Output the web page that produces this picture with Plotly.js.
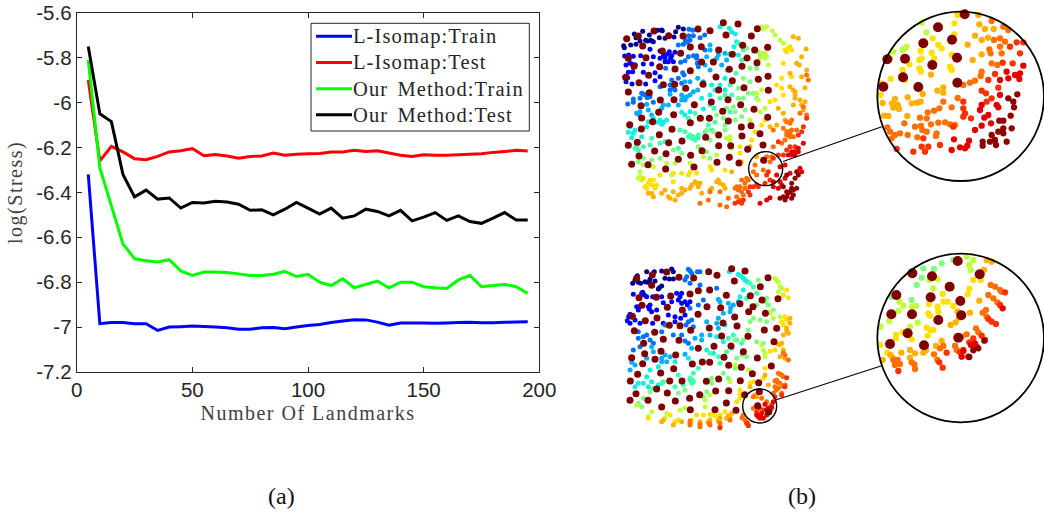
<!DOCTYPE html>
<html>
<head>
<meta charset="utf-8">
<script src="https://cdn.plot.ly/plotly-3.0.1.min.js"></script>
<style>
html,body{margin:0;padding:0;background:#fff;}
.xtitle,.ytitle{letter-spacing:1.5px;}
.legendtext{letter-spacing:1.1px;word-spacing:3px;font-size:20.5px !important;transform:translateX(-4px);}
</style>
</head>
<body>
<div id="chart" style="width:1044px;height:512px;"></div>
<script>
const landmarks = [5,10,15,20,25,30,35,40,45,50,55,60,65,70,75,80,85,90,95,100,105,110,115,120,125,130,135,140,145,150,155,160,165,170,175,180,185,190,195];
const isomapTrain = [-6.32,-6.985,-6.98,-6.98,-6.985,-6.985,-7.015,-7.0,-6.998,-6.995,-6.997,-7.0,-7.003,-7.01,-7.01,-7.003,-7.002,-7.007,-7.0,-6.993,-6.988,-6.98,-6.973,-6.967,-6.968,-6.978,-6.992,-6.982,-6.982,-6.982,-6.983,-6.982,-6.98,-6.979,-6.981,-6.981,-6.979,-6.977,-6.976];
const isomapTest = [-5.9,-6.26,-6.195,-6.22,-6.25,-6.255,-6.24,-6.22,-6.215,-6.205,-6.237,-6.232,-6.238,-6.248,-6.24,-6.238,-6.225,-6.235,-6.23,-6.228,-6.227,-6.22,-6.22,-6.213,-6.218,-6.215,-6.225,-6.235,-6.24,-6.233,-6.235,-6.235,-6.233,-6.23,-6.228,-6.222,-6.218,-6.213,-6.216];
const ourTrain = [-5.81,-6.29,-6.46,-6.63,-6.695,-6.705,-6.71,-6.70,-6.75,-6.77,-6.755,-6.755,-6.757,-6.763,-6.77,-6.77,-6.765,-6.752,-6.775,-6.765,-6.8,-6.815,-6.785,-6.825,-6.81,-6.795,-6.825,-6.8,-6.8,-6.82,-6.825,-6.828,-6.79,-6.77,-6.82,-6.815,-6.81,-6.82,-6.85];
const ourTest = [-5.75,-6.05,-6.085,-6.32,-6.42,-6.39,-6.43,-6.425,-6.47,-6.445,-6.447,-6.44,-6.443,-6.453,-6.48,-6.478,-6.5,-6.475,-6.445,-6.47,-6.497,-6.47,-6.515,-6.505,-6.475,-6.485,-6.505,-6.48,-6.527,-6.51,-6.49,-6.525,-6.505,-6.53,-6.538,-6.515,-6.49,-6.523,-6.523];
const seriesNames = ["L-Isomap:Train","L-Isomap:Test","Our Method:Train","Our Method:Test"];
const xTickVals = [0,50,100,150,200];
const yTickVals = [-5.6,-5.8,-6,-6.2,-6.4,-6.6,-6.8,-7,-7.2];
const yTickText = ["-5.6","-5.8","-6","-6.2","-6.4","-6.6","-6.8","-7","-7.2"];

// Embedding A (upper left)
const aLand = [[340,23],[384,27],[442,41],[264,42],[300,47],[132,48],[348,60],[424,63],[176,62],[219,63],[85,63],[50,71],[98,93],[241,96],[274,95],[398,91],[326,105],[434,105],[473,97],[157,108],[212,115],[367,118],[108,128],[55,130],[411,129],[275,141],[310,141],[441,143],[72,154],[149,155],[396,154],[195,162],[241,167],[358,163],[47,187],[116,181],[318,186],[474,184],[445,193],[367,197],[87,203],[160,209],[194,208],[279,208],[227,220],[402,218],[475,226],[326,225],[55,231],[118,233],[151,255],[192,254],[354,254],[304,261],[253,269],[392,269],[93,272],[432,283],[338,289],[146,292],[191,299],[95,309],[473,307],[271,310],[298,310],[128,320],[241,323],[355,318],[59,329],[423,332],[394,336],[94,342],[186,343],[450,356],[148,359],[326,360],[287,367],[396,363],[216,378],[82,382],[176,383],[55,391],[326,392],[362,392],[459,390],[134,408],[276,407],[413,403],[168,416],[87,423],[242,421],[358,427],[205,433],[461,436],[321,442],[387,444],[65,448],[114,449],[252,456],[167,462]];
const aNavy = [[98,49],[73,57],[78,68],[90,78],[62,90],[41,92],[43,98],[78,88],[107,76],[122,76],[118,60],[148,68],[143,46],[157,47],[165,70],[197,50],[205,37],[220,42],[192,66],[125,78],[112,78],[130,80],[155,45]];
const aBlue = [[44,123],[56,120],[70,124],[48,150],[55,172],[76,150],[100,147],[92,122],[125,147],[130,125],[120,103],[150,108],[165,128],[185,122],[178,110],[195,112],[175,140],[165,140],[160,123],[190,140],[48,200],[66,207],[53,188],[68,170],[100,172],[135,173],[135,197],[150,185],[107,207],[67,148],[172,118],[182,130],[150,130],[60,145]];
const aDodger = [[237,43],[248,46],[226,75],[220,88],[250,62],[270,68],[284,60],[236,62],[205,90],[212,142],[225,137],[235,125],[260,122],[285,105],[262,145],[265,155],[218,173],[205,190],[185,195],[215,205],[195,225],[180,225],[105,240],[95,235],[120,245],[130,262],[90,250],[70,252],[53,267],[70,262],[167,160],[222,180],[150,215],[180,210],[190,218],[100,237],[112,248],[260,130],[250,122],[240,75],[232,82]];
const aAzure = [[160,270],[180,238],[215,240],[225,255],[240,240],[215,255],[250,230],[263,225],[280,200],[300,165],[263,190],[285,150],[290,125],[300,105],[325,120],[345,115],[350,135],[335,150],[320,130],[300,90],[115,285],[110,268],[90,290],[80,295],[155,280],[175,270],[125,300],[205,270],[240,200],[225,200],[230,245],[220,248],[85,298]];
const aCyan = [[330,35],[358,40],[365,50],[376,57],[380,80],[372,95],[358,118],[385,120],[352,165],[345,190],[330,210],[315,225],[300,240],[305,210],[275,250],[280,282],[240,290],[225,300],[215,292],[170,315],[160,322],[145,322],[130,310],[110,335],[95,365],[75,345],[55,352],[65,368],[60,335],[115,320],[345,225],[150,315],[155,328],[70,355]];
const aAqua = [[385,85],[400,105],[395,135],[378,175],[360,210],[345,240],[330,250],[312,280],[300,270],[365,240],[255,295],[235,310],[315,322],[295,330],[285,350],[305,345],[265,360],[235,365],[255,375],[245,370],[225,350],[210,345],[165,380],[150,385],[125,370],[100,395],[75,400],[85,405],[120,390],[360,290],[205,400],[250,365],[260,370],[240,360],[265,368],[80,392]];
const aGreen = [[410,100],[420,160],[400,190],[385,220],[415,235],[430,235],[400,250],[385,250],[370,275],[350,280],[320,300],[340,310],[345,345],[375,315],[395,305],[405,285],[375,290],[300,375],[265,395],[215,415],[190,405],[150,430],[125,435],[100,430],[85,440],[290,410],[300,430],[345,330],[420,200],[440,160],[290,345],[310,350],[450,120],[440,250]];
const aLime = [[455,35],[470,35],[487,47],[458,115],[445,110],[465,130],[475,150],[450,130],[440,235],[455,225],[445,255],[420,315],[450,290],[465,280],[360,375],[365,400],[320,420],[280,425],[240,445],[195,445],[170,445],[130,455],[100,450],[90,470],[85,490],[185,480],[460,42],[495,60],[510,75],[520,85],[450,40],[465,115],[470,125],[350,370],[360,365],[90,485],[95,495]];
const aYellow = [[535,100],[520,145],[530,110],[545,105],[545,185],[515,190],[515,220],[520,240],[480,260],[495,255],[465,315],[455,330],[435,350],[425,375],[390,395],[390,415],[395,440],[345,465],[300,455],[305,465],[260,475],[240,470],[215,475],[190,475],[190,500],[130,495],[125,510],[105,515],[135,520],[235,480],[500,210],[115,505],[120,495],[140,510],[110,520],[100,490],[150,480],[525,105],[540,95]];
const aAmber = [[550,65],[565,70],[588,102],[575,125],[560,145],[568,150],[540,175],[555,230],[575,185],[590,165],[585,218],[555,250],[550,270],[575,270],[585,260],[505,280],[520,295],[480,335],[525,315],[500,330],[420,395],[440,425],[365,470],[325,495],[330,505],[345,520],[270,505],[255,500],[215,520],[205,540],[180,550],[155,535],[125,535],[275,535],[300,525],[245,510],[190,530],[165,525],[115,535],[130,545],[175,545],[195,555],[215,535],[225,525],[240,520],[260,505],[265,515],[320,500],[340,510],[305,520],[555,240],[550,225],[570,255],[540,215],[580,285]];
const aOrange = [[590,180],[595,195],[580,275],[590,300],[570,295],[545,315],[530,320],[520,340],[535,350],[550,365],[525,375],[515,385],[490,345],[490,395],[470,425],[480,440],[435,450],[430,470],[440,480],[410,490],[405,505],[390,515],[385,525],[355,550],[330,570],[295,555],[300,530],[330,530],[270,565],[350,575],[460,465],[485,425],[380,545],[395,530],[530,350],[540,355],[545,345],[540,365],[530,360],[560,345],[540,325],[405,520],[395,495],[415,495],[400,540],[390,555],[375,520],[380,515]];
const aRedOrange = [[590,310],[580,335],[575,350],[565,360],[555,395],[540,395],[530,405],[505,380],[490,430],[470,480],[480,495],[465,505],[440,510],[420,515],[415,530],[400,555],[375,565],[395,565],[420,540],[445,515],[505,420],[520,420],[475,470],[430,515],[385,560]];
const aRed = [[580,385],[565,400],[555,410],[545,420],[525,450],[510,455],[500,480],[490,500],[480,548],[470,555],[450,565],[510,500],[525,490],[540,475],[570,460],[575,470],[555,420],[535,420],[545,410],[565,410],[490,515],[515,510],[505,520]];
const aDarkRed = [[560,470],[530,480],[555,490],[565,480],[520,515],[545,505],[560,520],[540,530],[530,545],[550,540],[510,550],[525,555],[545,550],[535,535],[545,520],[520,545],[550,525],[530,530]];

// Embedding B (lower left)
const bLand = [[365,41],[405,48],[296,50],[321,61],[170,51],[127,59],[207,67],[80,70],[251,69],[474,68],[373,78],[125,91],[451,95],[265,107],[299,105],[240,117],[349,121],[182,123],[87,128],[139,127],[421,122],[504,131],[456,135],[390,146],[96,151],[172,157],[291,155],[429,155],[332,158],[217,165],[416,170],[466,175],[264,178],[67,184],[374,186],[141,189],[106,197],[339,204],[178,211],[210,212],[381,213],[298,219],[500,220],[463,225],[242,226],[73,227],[134,232],[414,244],[335,243],[160,253],[207,256],[492,260],[101,265],[312,274],[363,273],[265,280],[153,289],[400,290],[104,296],[197,300],[342,307],[442,309],[65,308],[135,313],[356,331],[277,321],[299,322],[247,327],[98,326],[394,337],[484,333],[191,341],[427,356],[83,358],[152,354],[326,372],[289,379],[216,378],[179,378],[61,378],[391,377],[446,383],[356,407],[317,408],[140,402],[448,410],[269,419],[172,414],[404,419],[78,416],[239,430],[60,436],[114,436],[196,438],[349,444],[443,452],[155,456],[241,464],[315,464],[378,466],[476,471]];
const bNavy = [[110,50],[133,50],[82,62],[68,85],[85,82],[105,80],[120,72],[135,78],[155,48],[165,70],[185,42],[190,50],[190,72],[148,98],[155,93],[118,80],[75,75],[98,112],[92,85],[112,82],[145,102],[178,72]];
const bBlue = [[70,118],[95,115],[110,125],[80,155],[85,165],[120,150],[118,162],[103,120],[160,143],[155,125],[185,140],[200,115],[215,115],[225,140],[205,135],[215,145],[60,178],[52,197],[60,205],[75,195],[90,205],[128,205],[125,170],[140,165],[175,180],[195,185],[212,190],[225,180],[195,200],[160,205],[128,125],[115,155],[210,125],[88,155],[232,150],[56,185],[240,140]];
const bDodger = [[235,43],[245,55],[270,50],[225,75],[240,85],[270,90],[280,135],[265,150],[240,160],[235,200],[245,195],[250,215],[85,250],[110,240],[120,255],[130,265],[90,275],[70,285],[155,230],[190,240],[165,210],[300,105],[320,100],[215,240],[235,265],[225,258],[240,47],[262,50],[230,65],[228,210],[85,230],[100,245]];
const bAzure = [[320,205],[325,220],[290,200],[275,240],[300,240],[255,250],[275,255],[245,280],[225,298],[130,290],[165,300],[180,305],[155,310],[155,320],[170,320],[125,275],[110,310],[65,322],[75,330],[60,345],[325,133],[355,145],[360,170],[370,150],[385,140],[340,175],[325,190],[362,158],[330,140]];
const bCyan = [[358,50],[385,58],[400,70],[412,80],[400,105],[390,125],[345,210],[320,245],[340,260],[310,295],[290,285],[235,310],[195,320],[145,335],[120,345],[110,365],[85,385],[100,385],[75,395],[125,380],[145,390],[115,395],[392,62],[405,75]];
const bAqua = [[420,85],[430,95],[410,130],[370,240],[355,250],[380,255],[350,290],[325,305],[300,295],[265,340],[250,355],[240,375],[245,385],[205,360],[195,395],[155,385],[160,380],[130,400],[365,280],[395,265],[220,390],[440,115],[330,325],[240,370],[250,380],[248,375]];
const bGreen = [[445,75],[470,130],[475,150],[440,150],[430,190],[450,195],[420,200],[415,225],[440,260],[460,265],[395,300],[380,310],[375,340],[355,370],[340,355],[305,370],[305,385],[290,410],[225,405],[205,415],[120,410],[85,445],[95,455],[100,430],[410,305],[400,255],[470,200],[280,425],[490,165],[465,140],[375,255]];
const bLime = [[495,70],[510,95],[505,110],[480,170],[490,190],[510,185],[460,285],[465,305],[455,270],[375,330],[415,345],[360,380],[300,420],[285,435],[285,455],[225,460],[210,465],[170,475],[165,490],[125,470],[115,485],[80,450],[480,175],[505,80],[500,75],[515,100],[465,295]];
const bYellow = [[530,105],[520,120],[535,128],[515,200],[525,185],[520,210],[480,288],[495,285],[510,270],[465,340],[460,370],[430,380],[420,385],[390,405],[390,430],[380,440],[345,470],[330,480],[310,480],[280,480],[260,480],[245,495],[205,495],[195,500],[180,480],[115,490],[530,195],[300,478],[320,485],[390,418]];
const bAmber = [[540,190],[540,205],[530,220],[535,235],[520,240],[515,265],[520,285],[525,310],[510,305],[465,360],[440,425],[435,420],[420,395],[365,475],[350,490],[330,490],[300,495],[270,500],[240,505],[215,500],[190,510],[160,495],[155,500],[500,400],[475,390],[530,228],[505,268],[295,502],[325,498],[355,482],[360,488]];
const bOrange = [[525,300],[535,315],[520,295],[505,355],[515,360],[520,365],[500,375],[510,385],[525,390],[495,395],[515,415],[505,400],[490,415],[470,440],[455,430],[400,480],[405,495],[415,510],[360,495],[330,515],[300,510],[270,515],[240,510],[430,460],[510,358],[495,378],[503,382],[519,394],[498,405],[396,488],[412,503],[330,505],[298,505],[270,508],[240,498],[430,425]];
const bRedOrange = [[530,368],[525,395],[515,420],[410,505],[440,470],[450,460],[462,465],[485,450],[495,425],[415,512],[330,518]];
const bRed = [[470,465],[485,458],[440,480],[450,490],[460,490],[470,480],[480,468],[445,485],[465,448],[455,475],[475,458],[490,440],[452,482]];

// Enlarged view C (upper right)
const cLand = [[314,43],[234,82],[276,119],[190,130],[135,176],[291,173],[82,178],[217,195],[129,232],[292,248],[175,261],[70,260]];
const cLime = [[185,68],[199,97],[135,145],[128,150],[100,155],[90,175],[140,140]];
const cYellow = [[292,45],[283,70],[283,103],[218,115],[235,135],[245,145],[182,153],[215,158],[222,175],[178,180],[185,175],[148,193],[128,210],[183,215],[178,205],[270,200],[275,210],[275,165],[92,236],[65,250],[62,285],[135,240]];
const cAmber = [[355,45],[358,73],[375,87],[401,87],[345,107],[365,120],[384,113],[323,134],[365,163],[338,180],[213,224],[250,262],[232,272],[250,278],[143,292],[155,310],[170,308],[182,305],[188,282],[105,297],[68,309],[96,310],[113,315],[100,323],[117,327],[72,347],[85,348],[142,348]];
const cOrange = [[395,63],[430,80],[445,90],[402,120],[420,115],[435,125],[420,140],[388,148],[392,160],[425,160],[395,190],[412,195],[365,215],[362,228],[345,242],[330,248],[310,255],[250,305],[238,325],[222,332],[203,337],[200,355],[180,353],[275,322],[293,294],[133,370],[165,380],[183,378],[187,390],[213,373],[235,368],[255,367],[270,373],[285,375],[230,400],[228,408],[200,395],[172,412],[143,405],[120,400],[105,405],[90,395],[82,382],[95,415]];
const cRedOrange = [[490,127],[470,127],[450,140],[480,160],[428,188],[458,190],[405,222],[385,240],[415,263],[365,272],[378,280],[395,295],[380,305],[310,305],[310,325],[315,340],[333,355],[310,350],[185,440],[195,455],[205,440],[160,455],[240,435],[110,447],[280,380],[190,415]];
const cRed = [[490,197],[480,220],[465,225],[440,215],[445,235],[420,240],[478,237],[420,285],[360,330],[365,315],[415,322],[385,345],[373,353],[365,377],[345,390],[393,370],[282,418],[327,422],[322,437],[300,442],[275,450],[315,445],[410,315]];
const cDarkRed = [[472,283],[445,295],[460,305],[462,322],[452,347],[430,362],[418,362],[430,385],[455,385],[415,395],[395,405],[430,400],[440,425],[405,420],[390,425],[368,425],[368,437],[408,435]];

// Enlarged view D (lower right)
const dLand = [[293,48],[157,85],[216,94],[359,88],[269,125],[109,150],[212,157],[301,168],[94,208],[156,208],[304,211],[235,225],[143,265],[295,278],[90,297],[192,301]];
const dGreen = [[245,55],[190,70],[222,72],[185,98],[170,120],[95,155],[155,165],[280,45]];
const dLime = [[320,35],[340,45],[328,60],[332,75],[208,105],[233,102],[220,130],[118,170],[130,182],[157,185],[168,183],[115,198],[88,228],[62,245],[150,245],[173,233]];
const dYellow = [[340,105],[362,105],[328,132],[323,148],[248,147],[250,170],[263,170],[280,183],[207,177],[233,185],[235,200],[205,205],[210,212],[200,248],[108,270],[108,280],[128,262],[155,283],[203,272],[220,255],[212,255],[60,300],[82,323]];
const dAmber = [[380,45],[395,50],[372,75],[358,167],[330,203],[293,200],[272,240],[287,232],[297,218],[150,315],[124,323],[100,340],[150,338],[165,325],[190,323],[198,315],[228,303],[245,288],[68,345],[92,330]];
const dOrange = [[392,120],[405,125],[420,135],[385,150],[400,160],[412,172],[378,195],[368,203],[380,215],[348,250],[355,262],[320,268],[305,275],[285,303],[290,315],[240,310],[222,328],[232,345],[250,303],[105,360],[120,357],[155,352],[163,358],[165,372],[425,140],[100,345],[113,345]];
const dRedOrange = [[435,142],[420,180],[385,222],[395,230],[408,237],[365,272],[375,285],[340,280],[328,292],[238,352],[260,323],[248,368],[115,378],[300,322],[310,315]];
const dRed = [[428,190],[333,300],[345,295],[350,305],[305,335],[325,335],[310,318]];
const dDarkRed = [[373,287],[355,310],[340,316],[328,336]];

const W = 1044, H = 512;
const fx = px => px / W;
const fy = px => 1 - px / H;
const colors = {navy:"#00008f",blue:"#0000ff",dodger:"#0070ff",azure:"#00b0ff",cyan:"#10f0e0",aqua:"#40ffb0",green:"#80ff80",lime:"#c0ff40",yellow:"#ffe000",amber:"#ffb000",orange:"#ff7000",redorange:"#ff3000",red:"#e00000",darkred:"#900000",land:"#7f0000"};

function dots(points, color, size, n) {
  return {type:"scatter",mode:"markers",x:points.map(p=>p[0]),y:points.map(p=>p[1]),xaxis:"x"+n,yaxis:"y"+n,showlegend:false,hoverinfo:"skip",marker:{color:colors[color],size:size,line:{width:0}}};
}
const panelA = [[aNavy,"navy"],[aBlue,"blue"],[aDodger,"dodger"],[aAzure,"azure"],[aCyan,"cyan"],[aAqua,"aqua"],[aGreen,"green"],[aLime,"lime"],[aYellow,"yellow"],[aAmber,"amber"],[aOrange,"orange"],[aRedOrange,"redorange"],[aRed,"red"],[aDarkRed,"darkred"]];
const panelB = [[bNavy,"navy"],[bBlue,"blue"],[bDodger,"dodger"],[bAzure,"azure"],[bCyan,"cyan"],[bAqua,"aqua"],[bGreen,"green"],[bLime,"lime"],[bYellow,"yellow"],[bAmber,"amber"],[bOrange,"orange"],[bRedOrange,"redorange"],[bRed,"red"]];
const panelC = [[cLime,"lime"],[cYellow,"yellow"],[cAmber,"amber"],[cOrange,"orange"],[cRedOrange,"redorange"],[cRed,"red"],[cDarkRed,"darkred"]];
const panelD = [[dGreen,"green"],[dLime,"lime"],[dYellow,"yellow"],[dAmber,"amber"],[dOrange,"orange"],[dRedOrange,"redorange"],[dRed,"red"],[dDarkRed,"darkred"]];

const lineColors = ["#0000ff","#ff0000","#00ff00","#000000"];
const lineData = [isomapTrain,isomapTest,ourTrain,ourTest];
const traces = lineData.map((y,i)=>({type:"scatter",mode:"lines",x:landmarks,y:y,name:seriesNames[i],line:{color:lineColors[i],width:3,simplify:false},hoverinfo:"skip"}));
panelA.forEach(b=>traces.push(dots(b[0],b[1],5,2)));
traces.push(dots(aLand,"land",7,2));
panelB.forEach(b=>traces.push(dots(b[0],b[1],5,3)));
traces.push(dots(bLand,"land",7,3));
panelC.forEach(b=>traces.push(dots(b[0],b[1],6.3,4)));
traces.push(dots(cLand,"land",10,4));
panelD.forEach(b=>traces.push(dots(b[0],b[1],6.3,5)));
traces.push(dots(dLand,"land",10,5));

function hiddenAxis(domain, range) {
  return {domain:domain,range:range,visible:false,fixedrange:true,showgrid:false,zeroline:false};
}
const axisColor = "#262626";
const circleLine = {color:"#000000",width:1.4};
const bigLine = {color:"#000000",width:1.8};
const serif = "Liberation Serif, Times New Roman, serif";
const layout = {
  width:W,height:H,margin:{l:0,r:0,t:0,b:0},paper_bgcolor:"#fff",plot_bgcolor:"#fff",
  font:{family:"Liberation Sans, Arial, sans-serif",color:axisColor},
  xaxis:{domain:[fx(76.7),fx(539.3)],range:[0,200],tickvals:xTickVals,ticktext:xTickVals.map(String),ticks:"inside",ticklen:5,tickwidth:1,tickcolor:axisColor,linecolor:axisColor,linewidth:1,mirror:"ticks",showgrid:false,zeroline:false,fixedrange:true,tickfont:{size:20.5,color:axisColor},ticklabelstandoff:-1,
    title:{text:"Number Of Landmarks",font:{family:serif,size:20,color:"#404040"},standoff:6}},
  yaxis:{domain:[fy(372),fy(12.7)],range:[-7.2,-5.6],tickvals:yTickVals,ticktext:yTickText,ticks:"inside",ticklen:5,tickwidth:1,tickcolor:axisColor,linecolor:axisColor,linewidth:1,mirror:"ticks",showgrid:false,zeroline:false,fixedrange:true,tickfont:{size:20.5,color:axisColor},
    title:{text:"log(Stress)",font:{family:serif,size:20,color:"#404040"},standoff:8}},
  xaxis2:hiddenAxis([fx(610),fx(820)],[0,630]),yaxis2:hiddenAxis([fy(215),fy(15)],[600,0]),
  xaxis3:hiddenAxis([fx(610),fx(820)],[0,630]),yaxis3:hiddenAxis([fy(445),fy(255)],[570,0]),
  xaxis4:hiddenAxis([fx(860),fx(1044)],[0,552]),yaxis4:hiddenAxis([fy(190),fy(0)],[570,0]),
  xaxis5:hiddenAxis([fx(860),fx(1044)],[0,552]),yaxis5:hiddenAxis([fy(435),fy(245)],[570,0]),
  legend:{x:fx(311),y:fy(18.3),xanchor:"left",yanchor:"top",bgcolor:"rgba(0,0,0,0)",borderwidth:0,itemwidth:36,tracegroupgap:0,font:{family:serif,size:17.8,color:"#262626"}},
  shapes:[
    {type:"rect",xref:"paper",yref:"paper",x0:fx(311),x1:fx(529.3),y0:fy(23.3),y1:fy(131),line:{color:axisColor,width:1},layer:"above"},
    {type:"circle",xref:"x2",yref:"y2",x0:416,x1:518,y0:410,y1:512,line:circleLine,layer:"above"},
    {type:"circle",xref:"x3",yref:"y3",x0:398,x1:500,y0:402,y1:504,line:circleLine,layer:"above"},
    {type:"circle",xref:"x4",yref:"y4",x0:52,x1:552,y0:35,y1:543,line:bigLine,layer:"above"},
    {type:"circle",xref:"x5",yref:"y5",x0:52,x1:552,y0:26,y1:532,line:bigLine,layer:"above"},
    {type:"line",xref:"paper",yref:"paper",x0:fx(783),y0:fy(161.5),x1:fx(881.7),y1:fy(126.7),line:{color:"#000",width:1.1}},
    {type:"line",xref:"paper",yref:"paper",x0:fx(775.7),y0:fy(400),x1:fx(881.7),y1:fy(365.7),line:{color:"#000",width:1.1}}
  ],
  annotations:[
    {text:"(a)",xref:"paper",yref:"paper",x:fx(281.5),y:fy(495.5),xanchor:"center",yanchor:"middle",showarrow:false,font:{family:serif,size:24,color:"#111"}},
    {text:"(b)",xref:"paper",yref:"paper",x:fx(802),y:fy(495.5),xanchor:"center",yanchor:"middle",showarrow:false,font:{family:serif,size:24,color:"#111"}}
  ]
};
Plotly.newPlot("chart",traces,layout,{displayModeBar:false,staticPlot:true});
</script>
</body>
</html>
